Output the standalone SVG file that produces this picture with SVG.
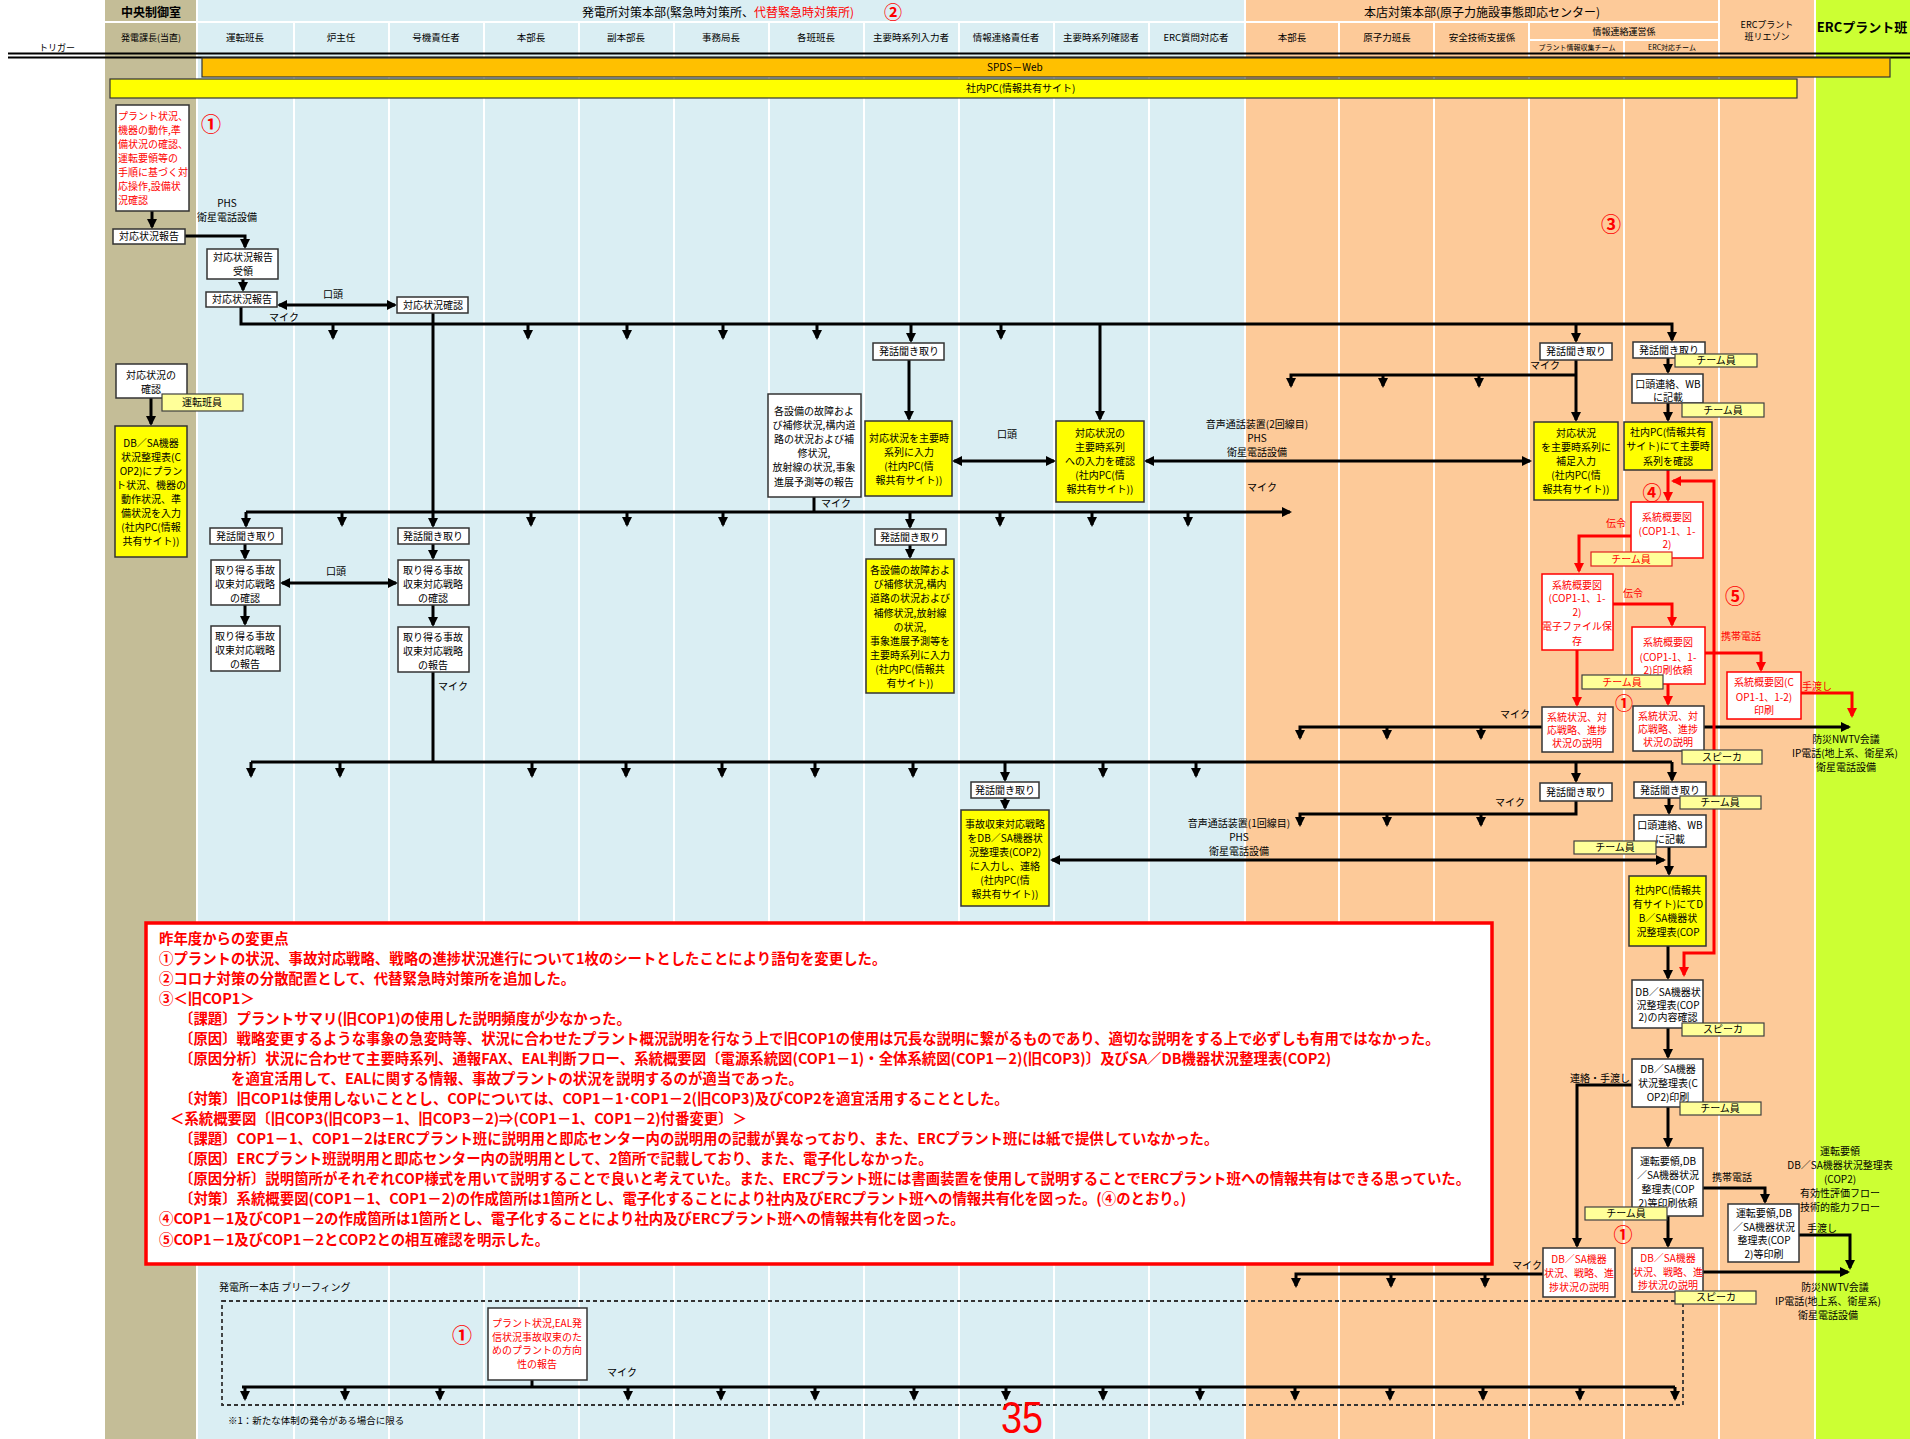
<svg xmlns="http://www.w3.org/2000/svg" width="1910" height="1439" viewBox="0 0 1910 1439">
<defs>
<style>
.t{font-family:"Noto Sans CJK JP","Noto Sans",sans-serif;font-size:10px;text-anchor:middle;fill:#000}
.tl{text-anchor:start}
.r{fill:#f00}
.b{font-weight:bold}
.h{font-size:9.5px}
.num{font-family:"Noto Sans CJK JP",sans-serif;font-size:20px;font-weight:bold;fill:#f00;text-anchor:middle}
.bx{fill:#fff;stroke:#333;stroke-width:1.5}
.yb{fill:#ff0;stroke:#333;stroke-width:1.5}
.rb{fill:#fff;stroke:#f00;stroke-width:1.5}
.lb{fill:#ffff99;stroke:#404040;stroke-width:1.2}
.lbr{fill:#ffff99;stroke:#e02020;stroke-width:1.2}
.c{stroke:#000;stroke-width:3;fill:none}
.cr{stroke:#f00;stroke-width:3;fill:none}
.a{marker-end:url(#ah)}
.s{marker-start:url(#ah)}
.ar{marker-end:url(#ahr)}
.sr{marker-start:url(#ahr)}
.wl{stroke:#fff;stroke-width:2;fill:none}
.note{font-family:"Noto Sans CJK JP",sans-serif;font-size:14.4px;font-weight:bold;fill:#f00}
</style>
<marker id="ah" viewBox="0 0 10 10" refX="8" refY="5" markerWidth="10" markerHeight="10" markerUnits="userSpaceOnUse" orient="auto-start-reverse"><path d="M0,0L10,5L0,10z" fill="#000"/></marker>
<marker id="ahr" viewBox="0 0 10 10" refX="8" refY="5" markerWidth="10" markerHeight="10" markerUnits="userSpaceOnUse" orient="auto-start-reverse"><path d="M0,0L10,5L0,10z" fill="#f00"/></marker>
</defs>

<g id="background">
<rect x="0" y="0" width="1910" height="1439" fill="#fff"/>
<rect x="105" y="0" width="92" height="1439" fill="#C4BD97"/>
<rect x="197" y="0" width="1048" height="1439" fill="#DAEEF3"/>
<rect x="1245" y="0" width="570" height="1439" fill="#FDCA99"/>
<rect x="1815" y="0" width="95" height="1439" fill="#CCFF33"/>
<path class="wl" d="M197,0V1439M1245,0V1439M1719,0V1439M1815,0V1439M294,22V1439M389,22V1439M484,22V1439M579,22V1439M674,22V1439M769,22V1439M864,22V1439M959,22V1439M1054,22V1439M1149,22V1439M1339,22V1439M1434,22V1439M1529,22V1439M1624,40V1439M105,22H1719M1529,40H1719"/>
</g>

<g id="header">
<text class="t b" x="151" y="17" style="font-size:12px">中央制御室</text>
<text class="t tl" x="582" y="17" style="font-size:12px">発電所対策本部(緊急時対策所、<tspan class="r">代替緊急時対策所)</tspan></text>
<text class="num" x="893" y="19" style="font-size:18px">②</text>
<text class="t" x="1482" y="17" style="font-size:12px">本店対策本部(原子力施設事態即応センター)</text>
<text class="t" x="1767" y="28" style="font-size:9px">ERCプラント</text>
<text class="t" x="1767" y="40" style="font-size:9px">班リエゾン</text>
<text class="t b" x="1862" y="32" style="font-size:13px">ERCプラント班</text>
<text class="t h" x="57" y="51" style="font-size:9px">トリガー</text>
<text class="t h" x="151" y="41" style="font-size:9px">発電課長(当直)</text>
<text class="t h" x="245" y="41">運転班長</text>
<text class="t h" x="341" y="41">炉主任</text>
<text class="t h" x="436" y="41">号機責任者</text>
<text class="t h" x="531" y="41">本部長</text>
<text class="t h" x="626" y="41">副本部長</text>
<text class="t h" x="721" y="41">事務局長</text>
<text class="t h" x="816" y="41">各班班長</text>
<text class="t h" x="911" y="41">主要時系列入力者</text>
<text class="t h" x="1006" y="41">情報連絡責任者</text>
<text class="t h" x="1101" y="41">主要時系列確認者</text>
<text class="t h" x="1196" y="41">ERC質問対応者</text>
<text class="t h" x="1292" y="41">本部長</text>
<text class="t h" x="1387" y="41">原子力班長</text>
<text class="t h" x="1482" y="41">安全技術支援係</text>
<text class="t h" x="1624" y="35" style="font-size:9px">情報連絡運営係</text>
<text class="t" x="1577" y="50" style="font-size:7px">プラント情報収集チーム</text>
<text class="t" x="1672" y="50" style="font-size:7px">ERC対応チーム</text>
<path d="M8,53.5H1910M8,57.5H1910" stroke="#000" stroke-width="2.2" fill="none"/>
<rect x="202" y="58" width="1688" height="19" fill="#FFC000" stroke="#333" stroke-width="1.2"/>
<text class="t tl" x="987" y="71">SPDS－Web</text>
<rect x="110" y="79" width="1687" height="19" fill="#FFFF00" stroke="#333" stroke-width="1.2"/>
<text class="t tl" x="966" y="92">社内PC(情報共有サイト)</text>
</g>

<g id="briefing-frame">
<rect x="222" y="1301" width="1461" height="104" fill="none" stroke="#333" stroke-width="1.8" stroke-dasharray="4 3"/>
<text class="t tl" x="219" y="1291">発電所ー本店 ブリーフィング</text>
</g>

<g id="connectors">
<path class="c a" d="M152,211V227"/>
<path class="c a" d="M185,236H245V247"/>
<path class="c a" d="M243,279V290"/>
<path class="c s a" d="M279,305H395"/>
<path class="c a" d="M241,307V324H1672V340"/>
<path class="c a" d="M333,324V338"/><path class="c a" d="M528,324V338"/><path class="c a" d="M627,324V338"/><path class="c a" d="M723,324V338"/><path class="c a" d="M817,324V338"/><path class="c a" d="M1001,324V338"/>
<path class="c a" d="M911,324V341"/>
<path class="c a" d="M1100,324V419"/>
<path class="c a" d="M1576,324V341"/>
<path class="c a" d="M433,313V526"/>
<path class="c a" d="M151,398V424"/>
<path class="c a" d="M246,512H1290"/>
<path class="c a" d="M246,512V526"/>
<path class="c a" d="M342,512V525"/><path class="c a" d="M531,512V525"/><path class="c a" d="M627,512V525"/><path class="c a" d="M723,512V525"/><path class="c a" d="M1000,512V525"/><path class="c a" d="M1092,512V525"/><path class="c a" d="M1188,512V525"/>
<path class="c a" d="M910,512V527"/>
<path class="c" d="M814,497V512"/>
<path class="c a" d="M245,544V558"/><path class="c a" d="M433,544V558"/>
<path class="c s a" d="M282,583H396"/>
<path class="c a" d="M245,605V624"/><path class="c a" d="M433,605V625"/>
<path class="c" d="M433,672V762"/>
<path class="c" d="M251,762H1672"/>
<path class="c a" d="M251,762V776"/><path class="c a" d="M340,762V776"/><path class="c a" d="M532,762V776"/><path class="c a" d="M626,762V776"/><path class="c a" d="M722,762V776"/><path class="c a" d="M815,762V776"/><path class="c a" d="M913,762V776"/><path class="c a" d="M1103,762V776"/><path class="c a" d="M1196,762V776"/>
<path class="c a" d="M1005,762V780"/><path class="c a" d="M1576,762V781"/><path class="c a" d="M1672,762V780"/>
<path class="c a" d="M1005,798V808"/>
<path class="c s a" d="M1052,860H1664"/>
<path class="c a" d="M909,360V419"/>
<path class="c s a" d="M954,461H1054"/>
<path class="c s a" d="M1146,461H1530"/>
<path class="c a" d="M910,545V557"/>
<path class="c a" d="M1576,360V420"/>
<path class="c a" d="M1576,375H1291V386"/><path class="c a" d="M1383,375V386"/><path class="c a" d="M1479,375V386"/>
<path class="c a" d="M1668,358V372"/><path class="c a" d="M1668,403V420"/>
<path class="c a" d="M1704,727H1849"/>
<path class="c a" d="M1542,727H1300V738"/><path class="c a" d="M1387,727V738"/><path class="c a" d="M1481,727V738"/>
<path class="c a" d="M1576,801V814H1300V825"/><path class="c a" d="M1387,814V825"/><path class="c a" d="M1481,814V825"/>
<path class="c a" d="M1669,798V813"/><path class="c a" d="M1669,847V874"/><path class="c a" d="M1668,946V978"/><path class="c a" d="M1668,1028V1057"/><path class="c a" d="M1668,1107V1146"/>
<path class="c a" d="M1632,1085H1577V1246"/>
<path class="c a" d="M1703,1188H1765V1202"/>
<path class="c a" d="M1799,1235H1850V1268"/>
<path class="c a" d="M1668,1216V1246"/>
<path class="c a" d="M1703,1272H1848"/>
<path class="c a" d="M1543,1274H1296V1286"/><path class="c a" d="M1391,1274V1286"/><path class="c a" d="M1485,1274V1286"/>
<path class="c" d="M532,1380V1387"/>
<path class="c" d="M242,1387H1675" stroke-width="4"/>
<path class="c a" d="M245,1387V1399"/><path class="c a" d="M345,1387V1399"/><path class="c a" d="M440,1387V1399"/><path class="c a" d="M628,1387V1399"/><path class="c a" d="M721,1387V1399"/><path class="c a" d="M815,1387V1399"/><path class="c a" d="M914,1387V1399"/><path class="c a" d="M1006,1387V1399"/><path class="c a" d="M1103,1387V1399"/><path class="c a" d="M1200,1387V1399"/><path class="c a" d="M1295,1387V1399"/><path class="c a" d="M1390,1387V1399"/><path class="c a" d="M1483,1387V1399"/><path class="c a" d="M1580,1387V1399"/><path class="c a" d="M1675,1387V1399"/>
<path class="cr ar" d="M1668,470V500"/>
<path class="cr sr ar" d="M1673,481H1714V953H1684V975"/>
<path class="cr ar" d="M1631,536H1579V571"/>
<path class="cr ar" d="M1613,604H1672V625"/>
<path class="cr ar" d="M1705,653H1761V670"/>
<path class="cr ar" d="M1801,693H1852V716"/>
<path class="cr ar" d="M1577,650V705"/>
<path class="cr ar" d="M1668,684V704"/>
</g>

<g id="labels">
<text class="t" x="227" y="207">PHS</text>
<text class="t" x="227" y="221">衛星電話設備</text>
<text class="t" x="333" y="298">口頭</text>
<text class="t" x="284" y="321">マイク</text>
<text class="t" x="836" y="507">マイク</text>
<text class="t" x="336" y="575">口頭</text>
<text class="t" x="453" y="690">マイク</text>
<text class="t" x="1007" y="438">口頭</text>
<text class="t" x="1257" y="428">音声通話装置(2回線目)</text>
<text class="t" x="1257" y="442">PHS</text>
<text class="t" x="1257" y="456">衛星電話設備</text>
<text class="t" x="1262" y="491">マイク</text>
<text class="t" x="1545" y="369">マイク</text>
<text class="t" x="1239" y="827">音声通話装置(1回線目)</text>
<text class="t" x="1239" y="841">PHS</text>
<text class="t" x="1239" y="855">衛星電話設備</text>
<text class="t" x="1515" y="718">マイク</text>
<text class="t" x="1510" y="806">マイク</text>
<text class="t" x="1527" y="1269">マイク</text>
<text class="t" x="622" y="1376">マイク</text>
<text class="t r" x="1616" y="527">伝令</text>
<text class="t r" x="1633" y="597">伝令</text>
<text class="t r" x="1741" y="640">携帯電話</text>
<text class="t r" x="1817" y="690">手渡し</text>
<text class="t" x="1600" y="1082">連絡・手渡し</text>
<text class="t" x="1732" y="1181">携帯電話</text>
<text class="t" x="1822" y="1232">手渡し</text>
<text class="t" x="1846" y="743">防災NWTV会議</text>
<text class="t" x="1845" y="757">IP電話(地上系、衛星系)</text>
<text class="t" x="1846" y="771">衛星電話設備</text>
<text class="t" x="1840" y="1155">運転要領</text>
<text class="t" x="1840" y="1169">DB／SA機器状況整理表</text>
<text class="t" x="1840" y="1183">(COP2)</text>
<text class="t" x="1840" y="1197">有効性評価フロー</text>
<text class="t" x="1840" y="1211">技術的能力フロー</text>
<text class="t" x="1835" y="1291">防災NWTV会議</text>
<text class="t" x="1828" y="1305">IP電話(地上系、衛星系)</text>
<text class="t" x="1828" y="1319">衛星電話設備</text>
<text class="num" x="211" y="132">①</text>
<text class="num" x="1611" y="232">③</text>
<text class="num" x="1652" y="500" style="font-size:19px">④</text>
<text class="num" x="1735" y="604">⑤</text>
<text class="num" x="1624" y="710" style="font-size:18px">①</text>
<text class="num" x="1623" y="1242" style="font-size:19px">①</text>
<text class="num" x="462" y="1343">①</text>
<text x="1022" y="1433" font-family="Liberation Sans, sans-serif" font-size="44" fill="#f00" text-anchor="middle" textLength="42" lengthAdjust="spacingAndGlyphs">35</text>
<text class="t tl" x="228" y="1424" style="font-size:9.5px">※1：新たな体制の発令がある場合に限る</text>
</g>

<g id="n-trigger"><rect class="bx" x="116" y="105" width="73" height="106"/>
<text class="t tl r" x="118"><tspan x="118" y="120">プラント状況、</tspan><tspan x="118" y="134">機器の動作,準</tspan><tspan x="118" y="148">備状況の確認、</tspan><tspan x="118" y="162">運転要領等の</tspan><tspan x="118" y="176">手順に基づく対</tspan><tspan x="118" y="190">応操作,設備状</tspan><tspan x="118" y="204">況確認</tspan></text></g>
<g id="n-report1"><rect class="bx" x="113" y="229" width="72" height="15"/><text class="t" x="149" y="240">対応状況報告</text></g>
<g id="n-receive"><rect class="bx" x="207" y="249" width="71" height="30"/><text class="t"><tspan x="243" y="261">対応状況報告</tspan><tspan x="243" y="275">受領</tspan></text></g>
<g id="n-report2"><rect class="bx" x="206" y="292" width="71" height="15"/><text class="t" x="242" y="303">対応状況報告</text></g>
<g id="n-confirm"><rect class="bx" x="397" y="297" width="71" height="16"/><text class="t" x="433" y="309">対応状況確認</text></g>
<g id="n-check"><rect class="bx" x="116" y="364" width="71" height="34"/><text class="t"><tspan x="151" y="379">対応状況の</tspan><tspan x="151" y="393">確認</tspan></text>
<rect class="lb" x="162" y="394" width="81" height="17"/><text class="t" x="202" y="406">運転班員</text></g>
<g id="n-cop2input"><rect class="yb" x="115" y="426" width="72" height="131"/>
<text class="t"><tspan x="151" y="447">DB／SA機器</tspan><tspan x="151" y="461">状況整理表(C</tspan><tspan x="151" y="475">OP2)にプラン</tspan><tspan x="151" y="489">ト状況、機器の</tspan><tspan x="151" y="503">動作状況、準</tspan><tspan x="151" y="517">備状況を入力</tspan><tspan x="151" y="531">(社内PC(情報</tspan><tspan x="151" y="545">共有サイト))</tspan></text></g>

<g id="n-hear1"><rect class="bx" x="873" y="343" width="71" height="17"/><text class="t" x="909" y="355">発話聞き取り</text></g>
<g id="n-input1"><rect class="yb" x="865" y="421" width="87" height="75"/><text class="t"><tspan x="909" y="442">対応状況を主要時</tspan><tspan x="909" y="456">系列に入力</tspan><tspan x="909" y="470">(社内PC(情</tspan><tspan x="909" y="484">報共有サイト))</tspan></text></g>
<g id="n-equip-report"><rect class="bx" x="768" y="394" width="93" height="103"/><text class="t"><tspan x="814" y="415">各設備の故障およ</tspan><tspan x="814" y="429">び補修状況,構内道</tspan><tspan x="814" y="443">路の状況および補</tspan><tspan x="814" y="457">修状況,</tspan><tspan x="814" y="471">放射線の状況,事象</tspan><tspan x="814" y="486">進展予測等の報告</tspan></text></g>
<g id="n-verify1"><rect class="yb" x="1056" y="421" width="88" height="81"/><text class="t"><tspan x="1100" y="437">対応状況の</tspan><tspan x="1100" y="451">主要時系列</tspan><tspan x="1100" y="465">への入力を確認</tspan><tspan x="1100" y="479">(社内PC(情</tspan><tspan x="1100" y="493">報共有サイト))</tspan></text></g>

<g id="n-hear2a"><rect class="bx" x="210" y="528" width="72" height="16"/><text class="t" x="246" y="540">発話聞き取り</text></g>
<g id="n-hear2b"><rect class="bx" x="398" y="528" width="71" height="16"/><text class="t" x="433" y="540">発話聞き取り</text></g>
<g id="n-strat-a"><rect class="bx" x="211" y="560" width="69" height="45"/><text class="t"><tspan x="245" y="574">取り得る事故</tspan><tspan x="245" y="588">収束対応戦略</tspan><tspan x="245" y="602">の確認</tspan></text></g>
<g id="n-strat-b"><rect class="bx" x="398" y="560" width="71" height="45"/><text class="t"><tspan x="433" y="574">取り得る事故</tspan><tspan x="433" y="588">収束対応戦略</tspan><tspan x="433" y="602">の確認</tspan></text></g>
<g id="n-strat-rep-a"><rect class="bx" x="211" y="626" width="69" height="45"/><text class="t"><tspan x="245" y="640">取り得る事故</tspan><tspan x="245" y="654">収束対応戦略</tspan><tspan x="245" y="668">の報告</tspan></text></g>
<g id="n-strat-rep-b"><rect class="bx" x="398" y="627" width="71" height="45"/><text class="t"><tspan x="433" y="641">取り得る事故</tspan><tspan x="433" y="655">収束対応戦略</tspan><tspan x="433" y="669">の報告</tspan></text></g>
<g id="n-hear2c"><rect class="bx" x="875" y="529" width="71" height="16"/><text class="t" x="910" y="541">発話聞き取り</text></g>
<g id="n-input2"><rect class="yb" x="866" y="559" width="88" height="134"/><text class="t"><tspan x="910" y="574">各設備の故障およ</tspan><tspan x="910" y="588">び補修状況,構内</tspan><tspan x="910" y="602">道路の状況および</tspan><tspan x="910" y="617">補修状況,放射線</tspan><tspan x="910" y="631">の状況,</tspan><tspan x="910" y="645">事象進展予測等を</tspan><tspan x="910" y="659">主要時系列に入力</tspan><tspan x="910" y="673">(社内PC(情報共</tspan><tspan x="910" y="687">有サイト))</tspan></text></g>

<g id="n-hear3"><rect class="bx" x="971" y="782" width="68" height="16"/><text class="t" x="1005" y="794">発話聞き取り</text></g>
<g id="n-cop2strat"><rect class="yb" x="961" y="810" width="88" height="96"/><text class="t"><tspan x="1005" y="828">事故収束対応戦略</tspan><tspan x="1005" y="842">をDB／SA機器状</tspan><tspan x="1005" y="856">況整理表(COP2)</tspan><tspan x="1005" y="870">に入力し、連絡</tspan><tspan x="1005" y="884">(社内PC(情</tspan><tspan x="1005" y="898">報共有サイト))</tspan></text></g>

<g id="n-o-hear1"><rect class="bx" x="1540" y="343" width="72" height="17"/><text class="t" x="1576" y="355">発話聞き取り</text></g>
<g id="n-o-supp"><rect class="yb" x="1534" y="422" width="84" height="78"/><text class="t"><tspan x="1576" y="437">対応状況</tspan><tspan x="1576" y="451">を主要時系列に</tspan><tspan x="1576" y="465">補足入力</tspan><tspan x="1576" y="479">(社内PC(情</tspan><tspan x="1576" y="493">報共有サイト))</tspan></text></g>
<g id="n-e-hear1"><rect class="bx" x="1633" y="342" width="72" height="16"/><text class="t" x="1669" y="354">発話聞き取り</text>
<rect class="lb" x="1675" y="354" width="82" height="13"/><text class="t" x="1716" y="364">チーム員</text></g>
<g id="n-e-wb1"><rect class="bx" x="1632" y="374" width="71" height="29"/><text class="t"><tspan x="1668" y="388">口頭連絡、WB</tspan><tspan x="1668" y="401">に記載</tspan></text>
<rect class="lb" x="1682" y="403" width="82" height="14"/><text class="t" x="1723" y="414">チーム員</text></g>
<g id="n-e-pc1"><rect class="yb" x="1624" y="422" width="88" height="48"/><text class="t"><tspan x="1668" y="436">社内PC(情報共有</tspan><tspan x="1668" y="450">サイト)にて主要時</tspan><tspan x="1668" y="465">系列を確認</tspan></text></g>
<g id="n-cop1"><rect class="rb" x="1631" y="502" width="72" height="56"/><text class="t r"><tspan x="1667" y="521">系統概要図</tspan><tspan x="1667" y="535">(COP1-1、1-</tspan><tspan x="1667" y="548">2)</tspan></text>
<rect class="lbr" x="1591" y="552" width="81" height="14"/><text class="t r" x="1631" y="563">チーム員</text></g>
<g id="n-cop1-file"><rect class="rb" x="1542" y="574" width="71" height="76"/><text class="t r"><tspan x="1577" y="589">系統概要図</tspan><tspan x="1577" y="602">(COP1-1、1-</tspan><tspan x="1577" y="616">2)</tspan><tspan x="1577" y="630">電子ファイル保</tspan><tspan x="1577" y="645">存</tspan></text></g>
<g id="n-cop1-printreq"><rect class="rb" x="1632" y="627" width="73" height="57"/><text class="t r"><tspan x="1668" y="646">系統概要図</tspan><tspan x="1668" y="661">(COP1-1、1-</tspan><tspan x="1668" y="674">2)印刷依頼</tspan></text>
<rect class="lb" x="1582" y="675" width="81" height="14"/><text class="t r" x="1622" y="686">チーム員</text></g>
<g id="n-cop1-print"><rect class="rb" x="1727" y="672" width="74" height="47"/><text class="t r"><tspan x="1764" y="686">系統概要図(C</tspan><tspan x="1764" y="701">OP1-1、1-2)</tspan><tspan x="1764" y="714">印刷</tspan></text></g>
<g id="n-explain-a"><rect class="bx" x="1542" y="707" width="71" height="45"/><text class="t r"><tspan x="1577" y="721">系統状況、対</tspan><tspan x="1577" y="734">応戦略、進捗</tspan><tspan x="1577" y="747">状況の説明</tspan></text></g>
<g id="n-explain-b"><rect class="bx" x="1633" y="706" width="71" height="45"/><text class="t r"><tspan x="1668" y="720">系統状況、対</tspan><tspan x="1668" y="733">応戦略、進捗</tspan><tspan x="1668" y="746">状況の説明</tspan></text>
<rect class="lb" x="1682" y="750" width="80" height="14"/><text class="t" x="1722" y="761">スピーカ</text></g>

<g id="n-o-hear3"><rect class="bx" x="1540" y="783" width="72" height="18"/><text class="t" x="1576" y="796">発話聞き取り</text></g>
<g id="n-e-hear3"><rect class="bx" x="1634" y="782" width="72" height="16"/><text class="t" x="1670" y="794">発話聞き取り</text>
<rect class="lb" x="1680" y="796" width="81" height="13"/><text class="t" x="1720" y="806">チーム員</text></g>
<g id="n-e-wb3"><rect class="bx" x="1634" y="815" width="72" height="32"/><text class="t"><tspan x="1670" y="829">口頭連絡、WB</tspan><tspan x="1670" y="843">に記載</tspan></text>
<rect class="lb" x="1574" y="841" width="82" height="13"/><text class="t" x="1615" y="851">チーム員</text></g>
<g id="n-e-pc3"><rect class="yb" x="1629" y="876" width="77" height="70"/><text class="t"><tspan x="1668" y="894">社内PC(情報共</tspan><tspan x="1668" y="908">有サイト)にてD</tspan><tspan x="1668" y="922">B／SA機器状</tspan><tspan x="1668" y="936">況整理表(COP</tspan></text></g>
<g id="n-cop2check"><rect class="bx" x="1632" y="980" width="71" height="48"/><text class="t"><tspan x="1668" y="996">DB／SA機器状</tspan><tspan x="1668" y="1009">況整理表(COP</tspan><tspan x="1668" y="1021">2)の内容確認</tspan></text>
<rect class="lb" x="1682" y="1023" width="82" height="13"/><text class="t" x="1723" y="1033">スピーカ</text></g>
<g id="n-cop2print"><rect class="bx" x="1632" y="1059" width="71" height="48"/><text class="t"><tspan x="1668" y="1073">DB／SA機器</tspan><tspan x="1668" y="1087">状況整理表(C</tspan><tspan x="1668" y="1101">OP2)印刷</tspan></text>
<rect class="lb" x="1680" y="1102" width="81" height="13"/><text class="t" x="1720" y="1112">チーム員</text></g>
<g id="n-manual-req"><rect class="bx" x="1632" y="1148" width="71" height="68"/><text class="t"><tspan x="1668" y="1165">運転要領,DB</tspan><tspan x="1668" y="1179">／SA機器状況</tspan><tspan x="1668" y="1193">整理表(COP</tspan><tspan x="1668" y="1207">2)等印刷依頼</tspan></text>
<rect class="lb" x="1585" y="1207" width="82" height="13"/><text class="t" x="1626" y="1217">チーム員</text></g>
<g id="n-manual-print"><rect class="bx" x="1728" y="1204" width="71" height="58"/><text class="t"><tspan x="1764" y="1217">運転要領,DB</tspan><tspan x="1764" y="1231">／SA機器状況</tspan><tspan x="1764" y="1244">整理表(COP</tspan><tspan x="1764" y="1258">2)等印刷</tspan></text></g>
<g id="n-db-explain-a"><rect class="bx" x="1543" y="1248" width="72" height="49"/><text class="t r"><tspan x="1579" y="1263">DB／SA機器</tspan><tspan x="1579" y="1277">状況、戦略、進</tspan><tspan x="1579" y="1291">捗状況の説明</tspan></text></g>
<g id="n-db-explain-b"><rect class="bx" x="1632" y="1248" width="71" height="44"/><text class="t r"><tspan x="1668" y="1262">DB／SA機器</tspan><tspan x="1668" y="1276">状況、戦略、進</tspan><tspan x="1668" y="1289">捗状況の説明</tspan></text>
<rect class="lb" x="1675" y="1291" width="81" height="13"/><text class="t" x="1716" y="1301">スピーカ</text></g>

<g id="n-briefing"><rect class="bx" x="488" y="1308" width="99" height="72"/><text class="t r"><tspan x="537" y="1327">プラント状況,EAL発</tspan><tspan x="537" y="1341">信状況事故収束のた</tspan><tspan x="537" y="1354">めのプラントの方向</tspan><tspan x="537" y="1368">性の報告</tspan></text></g>

<g id="changes-note">
<rect x="146" y="923" width="1346" height="341" fill="#fff" stroke="#f00" stroke-width="3.5"/>
<text class="note" x="159" y="944">昨年度からの変更点</text>
<text class="note" x="159" y="964">①プラントの状況、事故対応戦略、戦略の進捗状況進行について1枚のシートとしたことにより語句を変更した。</text>
<text class="note" x="159" y="984">②コロナ対策の分散配置として、代替緊急時対策所を追加した。</text>
<text class="note" x="159" y="1004">③＜旧COP1＞</text>
<text class="note" x="179" y="1024">〔課題〕プラントサマリ(旧COP1)の使用した説明頻度が少なかった。</text>
<text class="note" x="179" y="1044">〔原因〕戦略変更するような事象の急変時等、状況に合わせたプラント概況説明を行なう上で旧COP1の使用は冗長な説明に繋がるものであり、適切な説明をする上で必ずしも有用ではなかった。</text>
<text class="note" x="179" y="1064">〔原因分析〕状況に合わせて主要時系列、通報FAX、EAL判断フロー、系統概要図〔電源系統図(COP1－1)・全体系統図(COP1－2)(旧COP3)〕及びSA／DB機器状況整理表(COP2)</text>
<text class="note" x="231" y="1084">を適宜活用して、EALに関する情報、事故プラントの状況を説明するのが適当であった。</text>
<text class="note" x="179" y="1104">〔対策〕旧COP1は使用しないこととし、COPについては、COP1－1･COP1－2(旧COP3)及びCOP2を適宜活用することとした。</text>
<text class="note" x="170" y="1124">＜系統概要図〔旧COP3(旧COP3－1、旧COP3－2)⇒(COP1－1、COP1－2)付番変更〕＞</text>
<text class="note" x="179" y="1144">〔課題〕COP1－1、COP1－2はERCプラント班に説明用と即応センター内の説明用の記載が異なっており、また、ERCプラント班には紙で提供していなかった。</text>
<text class="note" x="179" y="1164">〔原因〕ERCプラント班説明用と即応センター内の説明用として、2箇所で記載しており、また、電子化しなかった。</text>
<text class="note" x="179" y="1184">〔原因分析〕説明箇所がそれぞれCOP様式を用いて説明することで良いと考えていた。また、ERCプラント班には書画装置を使用して説明することでERCプラント班への情報共有はできる思っていた。</text>
<text class="note" x="179" y="1204">〔対策〕系統概要図(COP1－1、COP1－2)の作成箇所は1箇所とし、電子化することにより社内及びERCプラント班への情報共有化を図った。(④のとおり。)</text>
<text class="note" x="159" y="1224">④COP1－1及びCOP1－2の作成箇所は1箇所とし、電子化することにより社内及びERCプラント班への情報共有化を図った。</text>
<text class="note" x="159" y="1245">⑤COP1－1及びCOP1－2とCOP2との相互確認を明示した。</text>
</g>
</svg>
